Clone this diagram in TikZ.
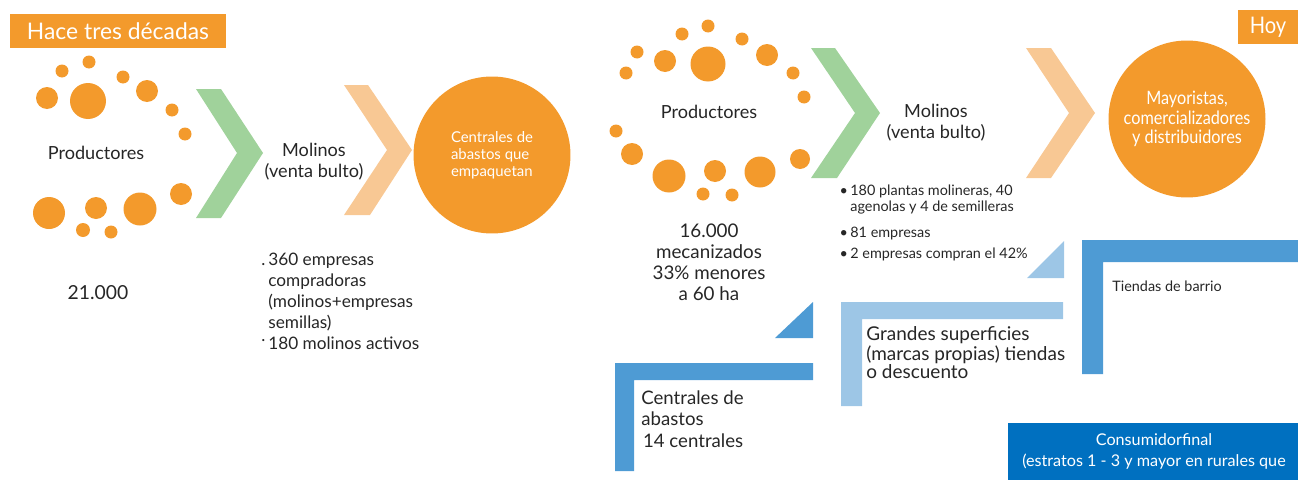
\documentclass[tikz,border=0pt]{standalone}
\usepackage{fontspec}
\setmainfont{Lato}
\newfontfamily\narrowfont[FakeStretch=0.88]{Lato}

\definecolor{dotorange}{HTML}{F39A2C}
\definecolor{chevgreen}{HTML}{A0D29B}
\definecolor{chevpeach}{HTML}{F8C894}
\definecolor{stepblue}{HTML}{4E9BD4}
\definecolor{steplight}{HTML}{9DC6E6}
\definecolor{finalblue}{HTML}{0070C0}
\definecolor{inkgray}{HTML}{262626}

\begin{document}
\begin{tikzpicture}[
  x=0.02cm, y=-0.02cm,
  dot/.style={fill=dotorange},
  txt/.style={text=inkgray, inner sep=0pt, font=\fontsize{10.3}{12}\selectfont},
  smalltxt/.style={text=inkgray, inner sep=0pt, font=\fontsize{8.2}{8.8}\selectfont},
  tag/.style={fill=dotorange, text=white, inner sep=0pt, minimum height=0.68cm},
  hub/.style={circle, fill=dotorange, text=white, inner sep=0pt, minimum size=3.14cm}
]
\useasboundingbox (0,0) rectangle (1298,480);

% Headings
\node[tag, minimum width=4.32cm, font=\fontsize{13}{14}\selectfont] (past) at (118,31) {Hace tres décadas};
\node[tag, minimum width=1.2cm, font=\narrowfont\fontsize{13}{14}\selectfont] (today) at (1268,27) {Hoy};

% Producer dots, then and now
\foreach \x/\y/\r in {89/62/6.5, 62/71/6.5, 123/77/6.5, 47/98/11, 88/101/18, 147/91/11,
    172/110/6.5, 185/134/6.5, 49/213/16, 96/208/11, 140/209/16.5, 181/194/11, 83/230/7, 111/232/6.5}
  \fill[dot] (\x,\y) circle[radius=\r*0.02cm];
\foreach \x/\y/\r in {708/26/6.5, 682/34/6.5, 742/39/6.5, 637/52/6.5, 665/61/11, 708/64/17.5,
    767/55/11, 626/73/6.5, 793/73/6.5, 804/97/6.5, 616/131/6.5, 632/154/11, 669/176/16.5,
    715/171/11, 760/172/15.5, 800/159/10, 703/194/6.5, 732/195/6.5}
  \fill[dot] (\x,\y) circle[radius=\r*0.02cm];

% Chevrons
\fill[chevgreen] (196,89) -- (221,89) -- (263,153) -- (221,218) -- (196,218) -- (237,153) -- cycle;
\fill[chevpeach] (344,85) -- (368,85) -- (412,150) -- (370,215) -- (344,215) -- (387,150) -- cycle;
\fill[chevgreen] (811,48) -- (835,48) -- (880,113) -- (837,178) -- (811,178) -- (855,113) -- cycle;
\fill[chevpeach] (1026,48) -- (1051,48) -- (1095,113) -- (1051,178) -- (1026,178) -- (1069,113) -- cycle;

% Chain three decades ago
\node[txt] (prodpast) at (96,153) {Productores};
\node[txt, align=center] (molpast) at (314,162) {Molinos\\(venta bulto)};
\node[hub, align=left, font=\fontsize{8.5}{9.6}\selectfont] (centrpast) at (492,155) {Centrales de\\abastos que\\empaquetan};
\node[txt, font=\fontsize{11}{12}\selectfont] (countpast) at (98,293) {21.000};
\node[txt, align=left, anchor=base west, font=\fontsize{9.8}{11.9}\selectfont] (listpast) at (268,349)
  {\llap{.\,}360 empresas\\compradoras\\(molinos+empresas\\semillas)\\\llap{\raisebox{0.9ex}{.}\,}180 molinos activos};

% Chain today
\node[txt] (prodtoday) at (709,112) {Productores};
\node[txt, align=center] (moltoday) at (936,123) {Molinos\\(venta bulto)};
\node[hub, align=center, font=\narrowfont\fontsize{10.5}{11}\selectfont] (mayor) at (1187,119) {Mayoristas,\\comercializadores\\y distribuidores};
\node[txt, align=center, font=\fontsize{10.7}{12}\selectfont] (counttoday) at (709,262) {16.000\\mecanizados\\33\% menores\\a 60 ha};
\node[smalltxt, align=left, anchor=base west] (listtoday) at (850,258)
  {\llap{\textbullet\,}180 plantas molineras, 40\\agenolas y 4 de semilleras\\[5.9pt]\llap{\textbullet\,}81 empresas\\[3.1pt]\llap{\textbullet\,}2 empresas compran el 42\%};

% Retail steps
\fill[stepblue] (615,363) -- (813,363) -- (813,380) -- (634,380) -- (634,471) -- (615,471) -- cycle;
\fill[stepblue] (775,338) -- (813,338) -- (813,302) -- cycle;
\fill[steplight] (841,302) -- (1063,302) -- (1063,319) -- (862,319) -- (862,406) -- (841,406) -- cycle;
\fill[steplight] (1027,278) -- (1064,278) -- (1064,241) -- cycle;
\fill[stepblue] (1082,240) -- (1298,240) -- (1298,262) -- (1103,262) -- (1103,374) -- (1082,374) -- cycle;

\node[txt, align=left, anchor=base west, font=\fontsize{10.6}{12.2}\selectfont] (abastos) at (641,447)
  {Centrales de\\abastos\\\hspace{1pt}14 centrales};
\node[txt, align=left, anchor=base west, font=\fontsize{10.8}{10}\selectfont] (grandes) at (866,378)
  {Grandes superficies\\(marcas propias) tiendas\\o descuento};
\node[smalltxt, anchor=base west] (tiendas) at (1112,291) {Tiendas de barrio};

\node[fill=finalblue, text=white, inner sep=0pt, minimum width=5.84cm, minimum height=1.14cm,
  align=center, font=\fontsize{9.2}{12}\selectfont] (consumidor) at (1154,451.5)
  {Consumidorfinal\\(estratos 1 - 3 y mayor en rurales que};

\end{tikzpicture}
\end{document}
